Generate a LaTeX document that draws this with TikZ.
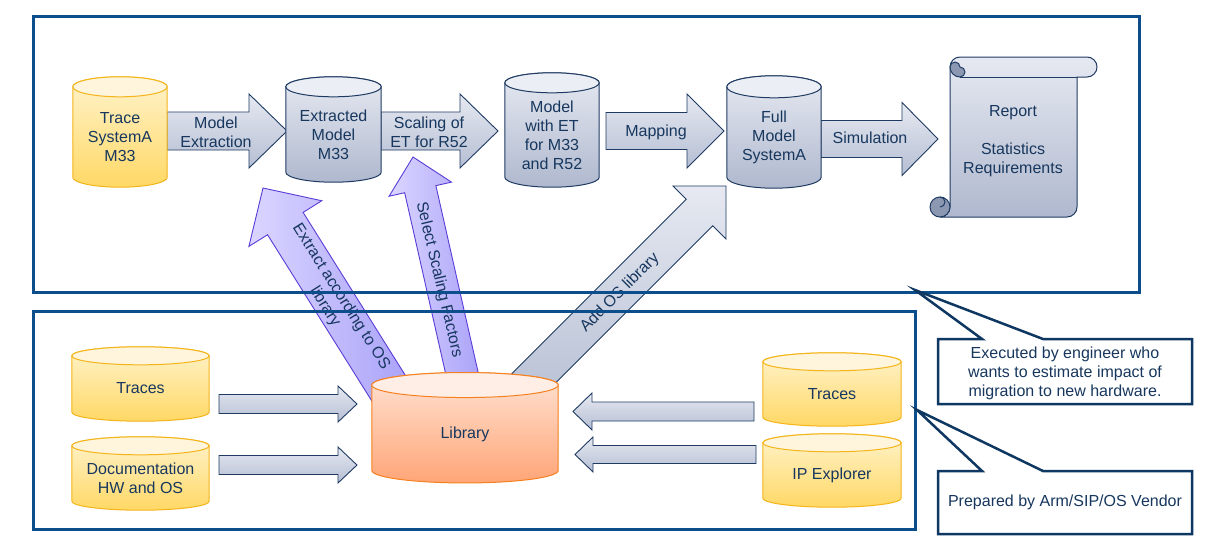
\documentclass[tikz,border=0pt]{standalone}
\usepackage{fontspec}
\setmainfont{Liberation Sans}
\usetikzlibrary{calc}
\pgfdeclarelayer{back}
\pgfdeclarelayer{mid}
\pgfsetlayers{back,mid,main}
\definecolor{txt}{HTML}{17375E}
\definecolor{frame}{HTML}{0C4D8C}
\definecolor{navy}{HTML}{1F3B63}
\definecolor{cbord}{HTML}{0E3761}
\definecolor{ybord}{HTML}{F4B41A}
\definecolor{ytop}{HTML}{FFF3CC}
\definecolor{ybot}{HTML}{FFD865}
\definecolor{ycap}{HTML}{FEF5DC}
\definecolor{btop}{HTML}{E6E9F1}
\definecolor{bbot}{HTML}{AFB8CE}
\definecolor{bcap}{HTML}{EBEEF4}
\definecolor{obord}{HTML}{F5801F}
\definecolor{otop}{HTML}{FFE3D4}
\definecolor{obot}{HTML}{FFA577}
\definecolor{ocap}{HTML}{FFEEE5}
\definecolor{atop}{HTML}{E6E9F1}
\definecolor{abot}{HTML}{B5BED3}
\definecolor{pbord}{HTML}{5B3CD6}
\definecolor{ptop}{HTML}{DAD6FF}
\definecolor{pbot}{HTML}{A9A1F8}
\definecolor{curl}{HTML}{8C98B2}
\newcommand\blockarrow[6]{%
  \coordinate (hb) at ($(#3)!#6pt!(#2)$);
  \path[#1] ($(#2)!#4pt!90:(#3)$) -- ($(hb)!#4pt!-90:(#2)$) -- ($(hb)!#5pt!-90:(#2)$) -- (#3)
    -- ($(hb)!#5pt!90:(#2)$) -- ($(hb)!#4pt!90:(#2)$) -- ($(#2)!#4pt!-90:(#3)$) -- cycle;}
\newcommand\cylpaint[3]{%
  \begin{pgfonlayer}{mid}
  \path[#3body] let \p1=(#1.north west), \p2=(#1.south east) in
    (\x1,\y1) -- (\x1,\y2+#2pt) arc[start angle=180,end angle=360,x radius={0.5*(\x2-\x1)},y radius=#2pt]
    -- (\x2,\y1) arc[start angle=0,end angle=180,x radius={0.5*(\x2-\x1)},y radius=#2pt] -- cycle;
  \path[#3cap] let \p1=(#1.north west), \p2=(#1.north east) in
    (#1.north) ellipse[x radius={0.5*(\x2-\x1)},y radius=#2pt];
  \end{pgfonlayer}}
\begin{document}
\begin{tikzpicture}[x=1pt,y=1pt,
  every node/.style={text=txt,font=\fontsize{16}{19}\selectfont,align=center,inner sep=0pt},
  yellowbody/.style={draw=ybord,line width=1pt,top color=ytop,bottom color=ybot},
  yellowcap/.style={draw=ybord,line width=1pt,fill=ycap},
  bluebody/.style={draw=navy,line width=1pt,top color=btop,bottom color=bbot},
  bluecap/.style={draw=navy,line width=1pt,fill=bcap},
  orangebody/.style={draw=obord,line width=1pt,top color=otop,bottom color=obot},
  orangecap/.style={draw=obord,line width=1pt,fill=ocap},
  grayarrow/.style={draw=navy,line width=0.9pt,top color=atop,bottom color=abot},
  purplearrow/.style={draw=pbord,line width=0.9pt,left color=ptop,right color=pbot},
  box/.style={draw=frame,line width=3pt},
  callout/.style={draw=cbord,line width=2.5pt,fill=white}]
\begin{pgfonlayer}{back}
  \useasboundingbox[fill=white] (0,0) rectangle (1223,-541);
\end{pgfonlayer}

\node[minimum width=94pt,minimum height=100pt] (trace) at (120,-137) {Trace\\SystemA\\M33};
\node[minimum width=95pt,minimum height=95pt] (extracted) at (333.5,-134.5) {Extracted\\Model\\M33};
\node[minimum width=94pt,minimum height=104pt] (withet) at (552,-135) {Model\\with ET\\for M33\\and R52};
\node[minimum width=94pt,minimum height=101pt] (full) at (774,-137.5) {Full\\Model\\SystemA};
\node[minimum width=137pt,minimum height=65pt] (tracesl) at (140.5,-388.5) {Traces};
\node[minimum width=137pt,minimum height=64pt] (docs) at (140.5,-478) {Documentation\\HW and OS};
\node[minimum width=186pt,minimum height=97.5pt] (library) at (465,-434) {Library};
\node[minimum width=138pt,minimum height=64pt] (tracesr) at (832,-394) {Traces};
\node[minimum width=138pt,minimum height=64pt] (ipx) at (832,-475) {IP Explorer};
\node (report) at (1013,-141.5) {Report\\[19pt]Statistics\\Requirements};

\cylpaint{trace}{10}{yellow}
\cylpaint{extracted}{10}{blue}
\cylpaint{withet}{10}{blue}
\cylpaint{full}{11}{blue}
\cylpaint{tracesl}{9}{yellow}
\cylpaint{docs}{9}{yellow}
\cylpaint{library}{12.5}{orange}
\cylpaint{tracesr}{9}{yellow}
\cylpaint{ipx}{9}{yellow}

\begin{pgfonlayer}{mid}
  \path[bluebody] (950,-67) -- (950,-207) arc[start angle=0,end angle=-90,radius=10]
    -- (1067,-217) arc[start angle=-90,end angle=0,radius=10] -- (1077,-77)
    -- (1087,-77) arc[start angle=-90,end angle=90,radius=10]
    -- (960,-57) arc[start angle=90,end angle=180,radius=10] -- cycle;
  \draw[navy,line width=1pt] (960,-77) -- (1077,-77);
  \path[draw=navy,line width=1pt,fill=curl] (950,-67) arc[start angle=180,end angle=270,radius=10]
    arc[start angle=-90,end angle=90,radius=5] arc[start angle=0,end angle=180,radius=5];
  \path[draw=navy,line width=1pt,fill=curl] (940,-207) circle[radius=10];
  \draw[navy,line width=1pt] (940,-197) arc[start angle=90,end angle=-90,radius=5];
\end{pgfonlayer}

\coordinate (mxs) at (167,-131);   \coordinate (mxe) at (287,-131);
\coordinate (scs) at (381,-131);   \coordinate (sce) at (498,-131);
\coordinate (mps) at (606,-131);   \coordinate (mpe) at (724,-131);
\coordinate (sms) at (821,-139);   \coordinate (sme) at (938,-139);
\coordinate (xts) at (396,-400);   \coordinate (xte) at (263,-188);
\coordinate (sss) at (468,-400);   \coordinate (sse) at (413,-157);
\coordinate (aos) at (512,-400);   \coordinate (aoe) at (726,-186);
\coordinate (t1s) at (219,-404);   \coordinate (t1e) at (357,-404);
\coordinate (d1s) at (219,-465);   \coordinate (d1e) at (357,-465);
\coordinate (t2s) at (754,-411.5); \coordinate (t2e) at (573,-411.5);
\coordinate (ips) at (756,-454.5); \coordinate (ipe) at (575,-454.5);

\begin{pgfonlayer}{back}
  \blockarrow{grayarrow}{mxs}{mxe}{19}{37}{38}
  \blockarrow{grayarrow}{scs}{sce}{19}{37}{38}
  \blockarrow{grayarrow}{mps}{mpe}{18.5}{37}{37}
  \blockarrow{grayarrow}{sms}{sme}{18.5}{36.5}{36}
  \blockarrow{purplearrow}{xts}{xte}{21}{43}{42}
  \blockarrow{purplearrow}{sss}{sse}{16}{32}{33}
  \blockarrow{grayarrow}{aos}{aoe}{18.7}{37.5}{37.5}
  \blockarrow{grayarrow}{t1s}{t1e}{9.5}{18}{19}
  \blockarrow{grayarrow}{d1s}{d1e}{9.5}{18}{19}
  \blockarrow{grayarrow}{t2s}{t2e}{9.5}{18.5}{19}
  \blockarrow{grayarrow}{ips}{ipe}{9}{17.5}{18}
\end{pgfonlayer}

\node (mxlab) at (216,-132) {Model\\Extraction};
\node (sclab) at (429,-132) {Scaling of\\ET for R52};
\node (mplab) at (656,-132) {Mapping};
\node (smlab) at (870,-138) {Simulation};
\node[rotate=-57.7] (xtlab) at (333,-302) {Extract according to OS\\library};
\node[rotate=-76.7] (sslab) at (439,-280) {Select Scaling Factors};
\node[rotate=45] (aolab) at (620,-293) {Add OS library};

\draw[box] (33,-16) rectangle (1139,-292);
\draw[box] (33,-311) rectangle (915,-529);

\path[callout] (938,-339) -- (982,-339) -- (915,-290) -- (1043,-339) -- (1192,-339)
  -- (1192,-404) -- (938,-404) -- cycle;
\path[callout] (938,-471) -- (982,-471) -- (917,-410) -- (1043,-471) -- (1192,-471)
  -- (1192,-534) -- (938,-534) -- cycle;
\node (exec) at (1065,-373) {Executed by engineer who\\wants to estimate impact of\\migration to new hardware.};
\node (prep) at (1065,-502) {Prepared by Arm/SIP/OS Vendor};
\end{tikzpicture}
\end{document}
